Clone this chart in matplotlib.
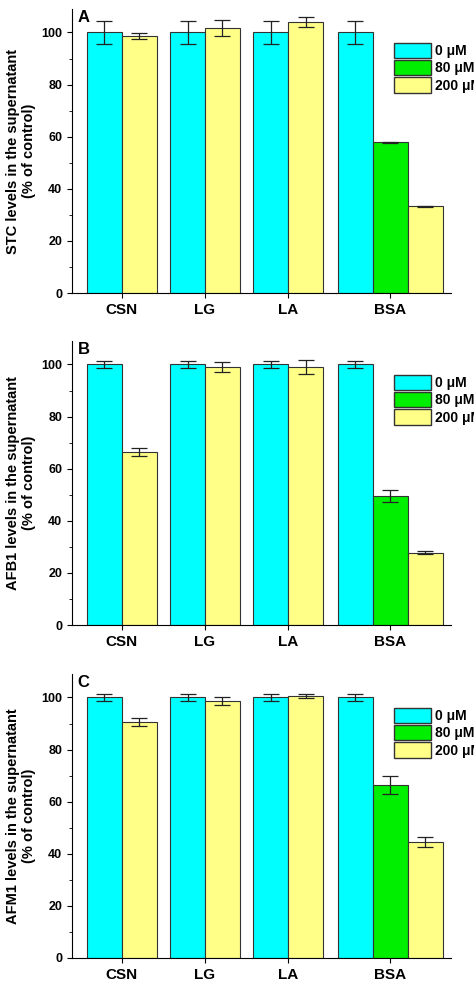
import numpy as np
import matplotlib.pyplot as plt
from matplotlib.ticker import MultipleLocator
from matplotlib.patches import Patch

plt.rcParams["font.family"] = ["Liberation Sans", "DejaVu Sans"]
plt.rcParams["font.weight"] = "bold"

groups = ["CSN", "LG", "LA", "BSA"]
panel_letters = ["A", "B", "C"]
ylabels = ["STC levels in the supernatant\n(% of control)",
           "AFB1 levels in the supernatant\n(% of control)",
           "AFM1 levels in the supernatant\n(% of control)"]

# values per panel: 0 uM for all groups, 200 uM for all groups, 80 uM only BSA
ctrl = [[100, 100, 100, 100], [100, 100, 100, 100], [100, 100, 100, 100]]
ctrl_err = [[4.5, 4.5, 4.5, 4.5], [1.2, 1.2, 1.2, 1.2], [1.2, 1.2, 1.2, 1.2]]
high = [[98.7, 101.7, 104.0, 33.3], [66.5, 99.0, 99.0, 27.8], [90.5, 98.7, 100.5, 44.5]]
high_err = [[1.2, 3.0, 2.0, 0.2], [1.5, 2.0, 2.8, 0.7], [1.5, 1.5, 0.8, 2.0]]
mid_bsa = [57.8, 49.5, 66.5]
mid_bsa_err = [0.3, 2.2, 3.5]

c0, c80, c200 = "#00ffff", "#00ee00", "#ffff88"
w = 0.42
fig = plt.figure(figsize=(4.74, 9.86), dpi=100)
tops = [9, 341, 674]
for p in range(3):
    top = tops[p]
    ax = fig.add_axes([72 / 474, 1 - (top + 284) / 986, 379 / 474, 284 / 986])
    xs0 = [-w / 2, 1 - w / 2, 2 - w / 2, 2.81]
    xs2 = [w / 2, 1 + w / 2, 2 + w / 2, 3.65]
    kw = dict(width=w, edgecolor="#333333", linewidth=0.8,
              error_kw=dict(elinewidth=0.9, capsize=6, capthick=0.9, ecolor="#222222"))
    ax.bar(xs0, ctrl[p], yerr=ctrl_err[p], color=c0, **kw)
    ax.bar([3.23], [mid_bsa[p]], yerr=[mid_bsa_err[p]], color=c80, **kw)
    ax.bar(xs2, high[p], yerr=high_err[p], color=c200, **kw)
    ax.set_xlim(-0.60, 3.96)
    ax.set_ylim(0, 109)
    ax.set_xticks([0, 1, 2, 3.23])
    ax.set_xticklabels(groups, fontsize=11, fontweight="bold")
    ax.yaxis.set_major_locator(MultipleLocator(20))
    ax.yaxis.set_minor_locator(MultipleLocator(10))
    ax.tick_params(axis="y", labelsize=9)
    for lab in ax.get_yticklabels():
        lab.set_fontweight("bold")
    ax.spines["top"].set_visible(False)
    ax.spines["right"].set_visible(False)
    ax.set_ylabel(ylabels[p], fontsize=10.5, fontweight="bold")
    ax.text(0.015, 0.995, panel_letters[p], transform=ax.transAxes,
            fontsize=12, fontweight="bold", va="top")
    handles = [Patch(facecolor=c, edgecolor="#333333") for c in (c0, c80, c200)]
    ax.legend(handles, ["0 μM", "80 μM", "200 μM"], loc="upper left",
              bbox_to_anchor=(0.825, 0.915), frameon=False,
              handlelength=2.6, handleheight=1.3, handletextpad=0.3,
              labelspacing=0.15, borderpad=0.2,
              prop=dict(weight="bold", size=10))

fig.savefig("out.png", dpi=100)
